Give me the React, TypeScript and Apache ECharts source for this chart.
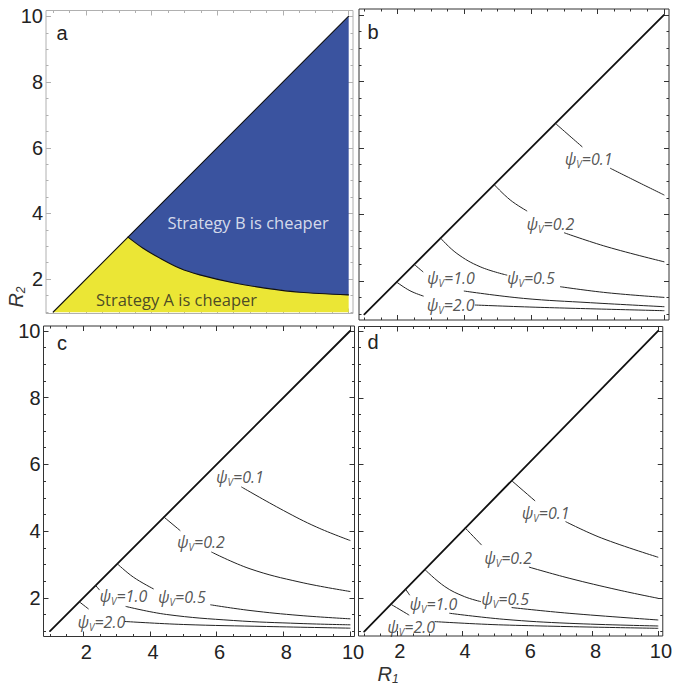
import React, { useEffect, useRef } from 'react';
import * as echarts from 'echarts';

// ---------- data ----------
const majorTicks = [2, 4, 6, 8, 10];
const minorTicks = [1, 1.5, 2.5, 3, 3.5, 4.5, 5, 5.5, 6.5, 7, 7.5, 8.5, 9, 9.5];
const tickLabels = ['2', '4', '6', '8', '10'];
const psiLevels = ['0.1', '0.2', '0.5', '1.0', '2.0'];

const diagonal = [[1, 1], [10, 10]];

// panel a: boundary between strategy A and B regions
const aBoundary = [
  [3.28, 3.28], [3.74, 2.94], [4.25, 2.64], [4.86, 2.33], [5.47, 2.13],
  [6.49, 1.89], [7.51, 1.72], [8.52, 1.6], [10, 1.52],
];
const aBlueLabelPos = [6.94, 3.74];
const aYellowLabelPos = [4.76, 1.37];

// panel b: contour segments per psi level (gaps where labels sit)
const bSegments = [
  [[[6.74, 6.74], [7.15, 6.38], [7.54, 6.04]], [[8.39, 5.39], [9.19, 4.99], [10, 4.59]]],
  [[[4.9, 4.9], [5.38, 4.44], [5.88, 4.11]], [[7.01, 3.45], [8.29, 3.03], [10, 2.58]]],
  [[[3.29, 3.29], [3.78, 2.83], [4.48, 2.43], [5.28, 2.18]], [[6.89, 1.83], [8.29, 1.65], [10, 1.51]]],
  [[[2.5, 2.5], [2.76, 2.28]], [[4.0, 1.7], [5.78, 1.48], [7.79, 1.35], [10, 1.23]]],
  [[[1.97, 1.97], [2.37, 1.71], [2.77, 1.55]], [[4.33, 1.28], [6.28, 1.21], [10, 1.11]]],
];
const bLabelPos = [[7.74, 5.66], [6.59, 3.72], [6.0, 2.08], [3.6, 2.08], [3.59, 1.28]];

// panel c
const cSegments = [
  [[[6.75, 5.32], [8.0, 4.62], [9.0, 4.12], [10, 3.72]]],
  [[[4.42, 4.42], [4.9, 4.02]], [[5.85, 3.37], [7.0, 2.87], [8.5, 2.47], [10, 2.19]]],
  [[[3.02, 3.02], [3.5, 2.62], [4.1, 2.27]], [[5.82, 1.79], [7.0, 1.62], [8.5, 1.47], [10, 1.37]]],
  [[[2.37, 2.37], [2.48, 2.24]], [[3.28, 1.74], [4.5, 1.5], [6.5, 1.32], [8.5, 1.23], [10, 1.19]]],
  [[[1.88, 1.88], [2.15, 1.67]], [[3.25, 1.29], [5.0, 1.2], [7.5, 1.14], [10, 1.09]]],
];
const cLabelPos = [[6.7, 5.63], [5.53, 3.68], [4.96, 2.03], [3.2, 2.06], [2.54, 1.28]];

// panel d
const dSegments = [
  [[[5.52, 5.52], [6.23, 4.92]], [[7.18, 4.29], [8.28, 3.8], [10, 3.23]]],
  [[[4.1, 4.1], [4.59, 3.6]], [[6.06, 2.93], [7.28, 2.6], [8.78, 2.25], [10, 2.0]]],
  [[[2.86, 2.86], [3.47, 2.35], [4.07, 2.05], [4.57, 1.9]], [[5.53, 1.72], [7.28, 1.55], [10, 1.35]]],
  [[[2.27, 2.27], [2.39, 2.1]], [[3.62, 1.55], [5.28, 1.37], [7.28, 1.25], [10, 1.17]]],
  [[[1.82, 1.82], [2.37, 1.5]], [[3.17, 1.3], [5.28, 1.2], [10, 1.1]]],
];
const dLabelPos = [[6.56, 4.56], [5.41, 3.2], [5.32, 1.97], [3.12, 1.83], [2.44, 1.15]];

// ---------- option ----------
const SANS = '"Liberation Sans", Arial, Helvetica, sans-serif';
const HUM = '"Open Sans", "Noto Sans", sans-serif';

function buildOption() {
  const panels = [
    { grid: { left: 46, top: 10.5, width: 307, height: 303 }, x: [0.78, 10.14], y: [0.954, 10.18], gray: true, xLabels: false, yLabels: true },
    { grid: { left: 359, top: 9, width: 310, height: 311 }, x: [0.84, 10.15], y: [0.83, 10.18], gray: false, xLabels: false, yLabels: false },
    { grid: { left: 43.5, top: 326, width: 311, height: 310.5 }, x: [0.805, 10.135], y: [0.84, 10.15], gray: false, xLabels: true, yLabels: true },
    { grid: { left: 358.5, top: 326.5, width: 310.5, height: 309.5 }, x: [0.826, 10.15], y: [0.87, 10.135], gray: false, xLabels: true, yLabels: false },
  ];

  const grids: any[] = [];
  const xAxes: any[] = [];
  const yAxes: any[] = [];
  const mainX: number[] = [];
  const mainY: number[] = [];
  const labelStyle = { fontFamily: SANS, fontSize: 20, color: '#222' };
  const fmt = (v: number) => tickLabels[majorTicks.indexOf(Math.round(v))] ?? '';

  panels.forEach((p, gi) => {
    const col = p.gray ? '#b0b0b0' : '#333';
    grids.push({ ...p.grid, show: true, borderColor: col, borderWidth: 1, backgroundColor: 'transparent', containLabel: false });
    (['bottom', 'top'] as const).forEach((pos) => {
      [true, false].forEach((major) => {
        if (pos === 'bottom' && major) mainX[gi] = xAxes.length;
        const showLab = pos === 'bottom' && major && p.xLabels;
        xAxes.push({
          type: 'value', gridIndex: gi, position: pos, min: p.x[0], max: p.x[1],
          splitLine: { show: false },
          axisLine: { show: false, onZero: false },
          axisTick: { show: true, inside: true, length: major ? 5 : 2.5, customValues: major ? majorTicks : minorTicks, lineStyle: { color: col, width: 1 } },
          axisLabel: showLab
            ? { show: true, customValues: majorTicks, formatter: fmt, margin: 5, padding: [0, 0, 0, 6], ...labelStyle }
            : { show: false },
        });
      });
    });
    (['left', 'right'] as const).forEach((pos) => {
      [true, false].forEach((major) => {
        if (pos === 'left' && major) mainY[gi] = yAxes.length;
        const showLab = pos === 'left' && major && p.yLabels;
        yAxes.push({
          type: 'value', gridIndex: gi, position: pos, min: p.y[0], max: p.y[1],
          splitLine: { show: false },
          axisLine: { show: false, onZero: false },
          axisTick: { show: true, inside: true, length: major ? 5 : 2.5, customValues: major ? majorTicks : minorTicks, lineStyle: { color: col, width: 1 } },
          axisLabel: showLab
            ? { show: true, customValues: majorTicks, formatter: fmt, margin: 3, ...labelStyle }
            : { show: false },
        });
      });
    });
  });

  const series: any[] = [];
  const line = (gi: number, data: number[][], width: number, color: string, smooth: number | boolean) =>
    series.push({
      type: 'line', xAxisIndex: mainX[gi], yAxisIndex: mainY[gi], data,
      showSymbol: false, symbol: 'none', smooth, silent: true, z: 5,
      lineStyle: { width, color, cap: 'round' },
    });
  const poly = (gi: number, pts: number[][], color: string) =>
    series.push({
      type: 'custom', xAxisIndex: mainX[gi], yAxisIndex: mainY[gi], data: [0], silent: true, z: 1,
      renderItem: (_params: any, api: any) => ({
        type: 'polygon',
        shape: { points: pts.map((q) => api.coord(q)) },
        style: { fill: color, stroke: color, lineWidth: 0.5 },
      }),
    });
  const textAt = (gi: number, pos: number[], text: string, style: any) =>
    series.push({
      type: 'scatter', xAxisIndex: mainX[gi], yAxisIndex: mainY[gi], silent: true, z: 10,
      symbol: 'circle', symbolSize: 1, itemStyle: { color: 'rgba(0,0,0,0)' },
      data: [{ value: pos, name: text }],
      label: { show: true, position: 'inside', formatter: () => text, ...style },
    });

  // ---- panel a ----
  const corner = aBoundary[0];
  const end = aBoundary[aBoundary.length - 1];
  const blue = [corner, diagonal[1], [10, end[1]], ...aBoundary.slice().reverse()];
  const yellow = [diagonal[0], ...aBoundary, [10, 1]];
  poly(0, yellow, '#EBE635');
  poly(0, blue, '#3A539F');
  line(0, [diagonal[0], diagonal[1]], 1.1, '#111', false);
  line(0, aBoundary, 1.1, '#111', 0.3);
  textAt(0, aBlueLabelPos, 'Strategy B is cheaper', { fontFamily: HUM, fontSize: 16.5, color: '#fff' });
  textAt(0, aYellowLabelPos, 'Strategy A is cheaper', { fontFamily: HUM, fontSize: 16.5, color: '#222' });

  // ---- panels b, c, d ----
  const psiRich = {
    p: { fontFamily: HUM, fontStyle: 'italic', fontSize: 16, color: '#2a2a2a', lineHeight: 20 },
    s: { fontFamily: HUM, fontStyle: 'italic', fontSize: 10, color: '#2a2a2a', lineHeight: 12, verticalAlign: 'bottom' },
  };
  const contourPanel = (gi: number, segs: number[][][][], labels: number[][]) => {
    line(gi, diagonal, 1.8, '#111', false);
    segs.forEach((lvl) => lvl.forEach((seg) => line(gi, seg, 1, '#222', 0.4)));
    series.push({
      type: 'scatter', xAxisIndex: mainX[gi], yAxisIndex: mainY[gi], silent: true, z: 10,
      symbol: 'circle', symbolSize: 1, itemStyle: { color: 'rgba(0,0,0,0)' },
      data: psiLevels.map((lv, i) => ({ value: labels[i], name: lv })),
      label: {
        show: true, position: 'inside',
        formatter: (pp: any) => `{p|ψ}{s|V}{p|=${pp.name}}`,
        rich: psiRich,
      },
    });
  };
  contourPanel(1, bSegments, bLabelPos);
  contourPanel(2, cSegments, cLabelPos);
  contourPanel(3, dSegments, dLabelPos);

  const letter = (t: string, x: number, y: number) => ({
    type: 'text', x, y, silent: true,
    style: { text: t, fontFamily: SANS, fontSize: 20, fill: '#222', align: 'center', verticalAlign: 'middle' },
  });
  const axisRich = {
    r: { fontFamily: SANS, fontStyle: 'italic', fontSize: 20, fill: '#333', color: '#333', lineHeight: 22 },
    s: { fontFamily: SANS, fontStyle: 'italic', fontSize: 12, fill: '#333', color: '#333', lineHeight: 12, verticalAlign: 'bottom' },
  };

  return {
    animation: false,
    backgroundColor: '#fff',
    grid: grids,
    xAxis: xAxes,
    yAxis: yAxes,
    series,
    graphic: [
      letter('a', 62, 33),
      letter('b', 373, 32),
      letter('c', 62, 343),
      letter('d', 373, 342),
      {
        type: 'text', x: 388, y: 674, silent: true,
        style: { text: '{r|R}{s|1}', rich: axisRich, align: 'center', verticalAlign: 'middle' },
      },
      {
        type: 'text', x: 16, y: 297, rotation: Math.PI / 2, silent: true,
        style: { text: '{r|R}{s|2}', rich: axisRich, align: 'center', verticalAlign: 'middle' },
      },
    ],
  };
}

export default function App() {
  const ref = useRef<HTMLDivElement>(null);
  useEffect(() => {
    const chart = echarts.init(ref.current!, null, { renderer: 'svg' });
    chart.setOption(buildOption() as any);
    return () => chart.dispose();
  }, []);
  return (
    <div
      ref={ref}
      style={{ position: 'absolute', left: 0, top: 0, width: 675, height: 688, background: '#fff' }}
    />
  );
}
